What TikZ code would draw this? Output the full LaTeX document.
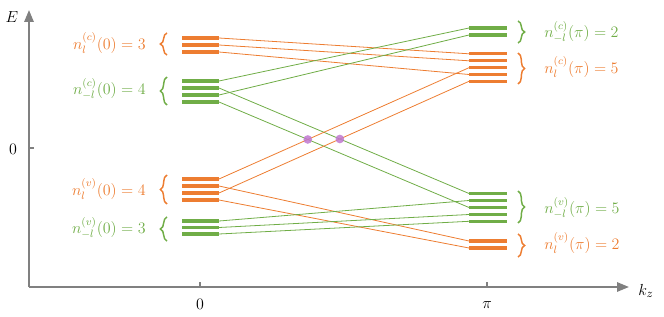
\documentclass[tikz,border=0pt]{standalone}
\usetikzlibrary{decorations.pathreplacing,arrows.meta,intersections}
\definecolor{orng}{HTML}{ED7D31}
\definecolor{grn}{HTML}{70AD47}
\definecolor{axgray}{HTML}{808080}
\definecolor{dotpurple}{RGB}{192,120,208}
\begin{document}
\begin{tikzpicture}[x=0.75pt,y=-0.75pt,
  axis/.style={axgray,line width=1.5pt},
  tick/.style={axgray,line width=1pt},
  bar/.style={line width=2.4pt},
  conn/.style={line width=0.6pt},
  lbl/.style={font=\fontsize{11.5}{13}\selectfont,inner sep=0pt},
  axlbl/.style={font=\fontsize{13}{15}\selectfont,inner sep=0pt},
  lbrc/.style={decorate,decoration={brace,amplitude=5pt},line width=1.1pt},
  xdot/.style={circle,fill=dotpurple,fill opacity=0.85,inner sep=0pt,minimum size=6.5pt}]
\useasboundingbox (0,0) rectangle (664,317);
% axes
\coordinate (O) at (29,287);
\coordinate (Etop) at (29,10);
\coordinate (Kend) at (629,287);
\draw[axis,-{Triangle[length=9pt,width=7pt]}] (O) -- (Etop);
\draw[axis,-{Triangle[length=9pt,width=7pt]}] (O) -- (Kend);
\coordinate (t0a) at (200,287); \coordinate (t0b) at (200,282);
\coordinate (tpa) at (487,287); \coordinate (tpb) at (487,282);
\coordinate (tea) at (29,148); \coordinate (teb) at (34,148);
\draw[tick] (t0a) -- (t0b);
\draw[tick] (tpa) -- (tpb);
\draw[tick] (tea) -- (teb);
\node[axlbl] (lE) at (12,17) {$E$};
\node[axlbl] (lE0) at (13,149) {$0$};
\node[axlbl] (lk0) at (200,304) {$0$};
\node[axlbl] (lkpi) at (487,305) {$\pi$};
\node[axlbl] (lkz) at (646,291) {$k_z$};
% levels: left x 182..219, right x 469..507
\foreach \n/\y/\c in {Oc1/38/orng,Oc2/45/orng,Oc3/52/orng,
                     Gc1/81/grn,Gc2/88/grn,Gc3/95/grn,Gc4/102/grn,
                     Ov1/179/orng,Ov2/186/orng,Ov3/193/orng,Ov4/200/orng,
                     Gv1/221/grn,Gv2/227.5/grn,Gv3/234/grn}{
  \coordinate (L\n a) at (182,\y);
  \coordinate (L\n) at (219,\y);
  \draw[bar,\c] (L\n a) -- (L\n);
}
\foreach \n/\y/\c in {Gc1/28/grn,Gc2/35/grn,
                     Oc1/53.8/orng,Oc2/60.8/orng,Oc3/67.7/orng,Oc4/74.5/orng,Oc5/81.3/orng,
                     Gv1/193.5/grn,Gv2/200.5/grn,Gv3/207.5/grn,Gv4/214.5/grn,Gv5/221.3/grn,
                     Ov1/241/orng,Ov2/248/orng}{
  \coordinate (R\n) at (469,\y);
  \coordinate (R\n b) at (507,\y);
  \draw[bar,\c] (R\n) -- (R\n b);
}
% connectors
\draw[conn,orng] (LOc1) -- (ROc1);
\draw[conn,orng] (LOc2) -- (ROc2);
\draw[conn,orng] (LOc3) -- (ROc4);
\draw[conn,grn] (LGc1) -- (RGc1);
\draw[conn,grn] (LGc3) -- (RGc2);
\draw[conn,grn,name path=g2] (LGc2) -- (RGv1);
\draw[conn,grn,name path=g4] (LGc4) -- (RGv3);
\draw[conn,orng,name path=o1] (LOv1) -- (ROc3);
\draw[conn,orng,name path=o3] (LOv3) -- (ROc5);
\draw[conn,orng] (LOv2) -- (ROv1);
\draw[conn,orng] (LOv4) -- (ROv2);
\draw[conn,grn] (LGv1) -- (RGv2);
\draw[conn,grn] (LGv2) -- (RGv4);
\draw[conn,grn] (LGv3) -- (RGv5);
\path[name intersections={of=g4 and o1,by=X1}];
\path[name intersections={of=g2 and o3,by=X2}];
\node[xdot] (d1) at (X1) {};
\node[xdot] (d2) at (X2) {};
% braces left
\foreach \a/\b/\c in {55/33/orng,105/77/grn,204/175/orng,241/217/grn}{
  \draw[lbrc,\c] (167,\a) -- (167,\b);
}
% braces right
\foreach \a/\b/\c in {21/43/grn,53/84/orng,191/223/grn,234/257/orng}{
  \draw[lbrc,\c] (518,\a) -- (518,\b);
}
% labels
\node[lbl,orng,anchor=east] (n1) at (146,43) {$n_{l}^{(c)}(0)=3$};
\node[lbl,grn,anchor=east] (n2) at (146,89) {$n_{-l}^{(c)}(0)=4$};
\node[lbl,orng,anchor=east] (n3) at (146,189) {$n_{l}^{(v)}(0)=4$};
\node[lbl,grn,anchor=east] (n4) at (146,228) {$n_{-l}^{(v)}(0)=3$};
\node[lbl,grn,anchor=west] (n5) at (544,32) {$n_{-l}^{(c)}(\pi)=2$};
\node[lbl,orng,anchor=west] (n6) at (544,67) {$n_{l}^{(c)}(\pi)=5$};
\node[lbl,grn,anchor=west] (n7) at (544,208) {$n_{-l}^{(v)}(\pi)=5$};
\node[lbl,orng,anchor=west] (n8) at (544,243) {$n_{l}^{(v)}(\pi)=2$};
\end{tikzpicture}
\end{document}
